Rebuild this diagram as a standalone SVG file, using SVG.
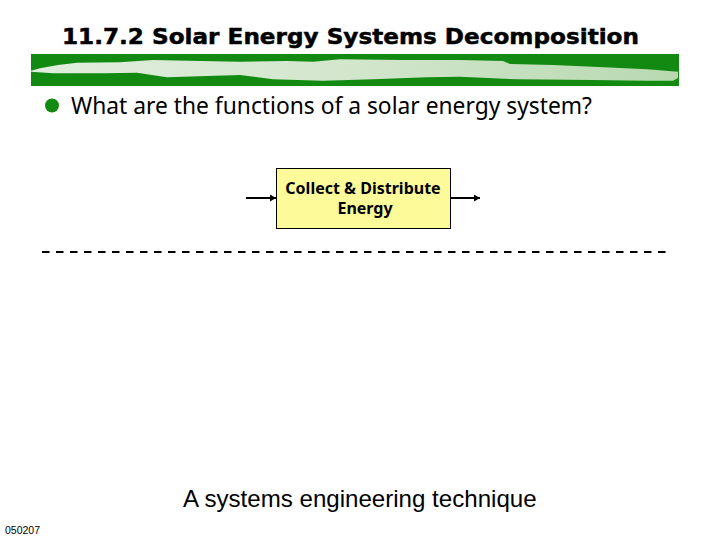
<svg xmlns="http://www.w3.org/2000/svg" width="720" height="540" viewBox="0 0 720 540">
<style>
text{fill:#000}
.t{font-family:"DejaVu Sans",sans-serif;font-weight:bold;font-size:22px;stroke:#000;stroke-width:.5px}
.b{font-family:"Noto Sans","DejaVu Sans",sans-serif;font-size:23px}
.n{font-family:"Noto Sans","DejaVu Sans",sans-serif;font-weight:bold;font-size:16px;text-anchor:middle}
.c{stroke:#000;stroke-width:2;fill:none;marker-end:url(#a)}
</style>
<defs>
<marker id="a" markerUnits="userSpaceOnUse" markerWidth="8" markerHeight="8" refX="6" refY="3.500" orient="auto"><path d="M0 0L6 3.500L0 7z" fill="#000"/></marker>
<linearGradient id="s" x1="0" x2="1" y1="0" y2="0"><stop offset="0" stop-color="#e2eede"/><stop offset=".5" stop-color="#d2e6cc"/><stop offset="1" stop-color="#b8d9b0"/></linearGradient>
</defs>
<text class="t" x="62" y="44" textLength="577" lengthAdjust="spacingAndGlyphs">11.7.2 Solar Energy Systems Decomposition</text>
<rect x="31" y="54" width="648" height="32" fill="#128a12"/>
<path d="M31 70.700L40 68.300L58 65L77 62.700L120 62.300L153 60L200 61L240 61.700L287 61L313 61.700L340 59.300L400 60L460 60L503 61L510 64L553 65L593 66.700L647 69.300L678 71.700L678 78L673 80.700L647 80.700L593 80L517 79.300L460 76.700L427 77.300L373 79.300L323 80.700L273 79.300L240 75L207 76L167 77.300L137 72.700L103 73.300L53 73.300L31 71.700z" fill="url(#s)"/>
<circle cx="52" cy="105.500" r="7" fill="#128a12"/>
<text class="b" x="71" y="114" textLength="521" lengthAdjust="spacingAndGlyphs">What are the functions of a solar energy system?</text>
<g id="connectors">
<path class="c" d="M246 198H276"/>
<path class="c" d="M451 198H480"/>
<path d="M42 252H666" stroke="#000" stroke-width="2.200" stroke-dasharray="7.500 6.500" fill="none"/>
</g>
<g id="collect">
<rect x="276.500" y="168.500" width="174" height="60" fill="#fdfb99" stroke="#000" stroke-width="1"/>
<text class="n" x="363" y="194">Collect &amp; Distribute</text>
<text class="n" x="365" y="214">Energy</text>
</g>
<text x="183" y="507" font-family="Liberation Sans,sans-serif" font-size="24.100px">A systems engineering technique</text>
<text x="5" y="534" font-family="Liberation Sans,sans-serif" font-size="10.500px">050207</text>
</svg>
